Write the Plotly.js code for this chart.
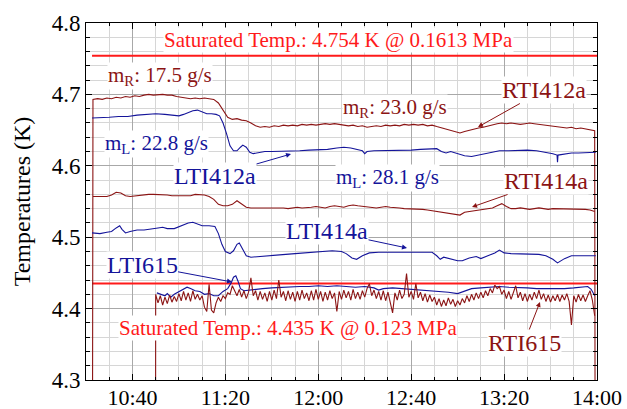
<!DOCTYPE html>
<html><head><meta charset="utf-8">
<script src="https://cdn.plot.ly/plotly-3.0.1.min.js"></script>
<style>html,body{margin:0;padding:0;background:#fff}#chart{width:627px;height:409px}</style>
</head><body><div id="chart"></div>
<script>
// time axis: minutes after 10:00
const xTickVals = [40, 80, 120, 160, 200, 240];
const xTickLabels = ["10:40", "11:20", "12:00", "12:40", "13:20", "14:00"];

// saturated temperatures (K)
const satTemps = [4.754, 4.435];
const satSpan = [22.6, 240];

// RTI412a sampled every 2 min from t=21 (first/last samples are sensor dropouts)
const rti412aStart = 21, rti412aStep = 2;
const rti412aVals = [0,
4.693,4.694,4.693,4.695,4.694,4.696,4.695,4.697,4.696,4.698,4.697,4.699,4.700,4.699,4.700,4.700,4.699,4.699,4.697,4.696,
4.695,4.694,4.695,4.694,4.695,4.694,4.693,4.688,4.678,4.668,4.665,4.666,4.664,4.663,4.660,4.656,4.654,4.655,4.654,4.656,
4.655,4.657,4.656,4.657,4.656,4.658,4.657,4.658,4.657,4.658,4.659,4.658,4.659,4.658,4.657,4.656,4.657,4.655,4.656,4.654,
4.655,4.656,4.655,4.657,4.656,4.657,4.656,4.658,4.657,4.658,4.657,4.658,4.656,4.657,4.655,4.653,4.651,4.649,4.647,4.646,
4.648,4.650,4.651,4.653,4.654,4.656,4.657,4.659,4.660,4.659,4.660,4.659,4.658,4.659,4.660,4.659,4.658,4.657,4.656,4.655,
4.654,4.653,4.653,4.654,4.652,4.653,4.652,4.651,4.649, 0];

// RTI414a sampled every 2 min from t=23
const rti414aStart = 23, rti414aStep = 2;
const rti414aVals = [
4.557,4.557,4.558,4.557,4.559,4.563,4.562,4.558,4.557,4.558,4.559,4.559,4.560,4.560,4.560,4.559,4.559,4.558,4.558,4.557,
4.557,4.558,4.560,4.560,4.559,4.557,4.553,4.546,4.544,4.544,4.546,4.551,4.546,4.542,4.541,4.541,4.542,4.541,4.542,4.541,
4.542,4.541,4.540,4.541,4.542,4.541,4.541,4.542,4.543,4.542,4.541,4.543,4.544,4.543,4.542,4.544,4.545,4.544,4.543,4.542,
4.541,4.541,4.542,4.543,4.542,4.542,4.541,4.540,4.540,4.539,4.540,4.539,4.538,4.537,4.536,4.535,4.533,4.533,4.531,4.531,
4.535,4.536,4.537,4.538,4.539,4.540,4.541,4.544,4.547,4.543,4.540,4.540,4.541,4.540,4.539,4.540,4.541,4.540,4.539,4.540,
4.540,4.539,4.540,4.539,4.539,4.540,4.539,4.538,4.536];

// LTI412a
const lti412aT = [22.6,26,30,34,38,42,46,50,54,58,60,62,64,66,68,70,72,74,76,77.5,79,80.5,82,83.5,85,86.5,87.5,89,90.5,92,
94,97,100,104,108,112,116,120,124,128,131,134,137,139,140,141,144,148,152,156,160,164,168,171,173,175,177,180,183,186,
189,192,195,198,202,206,210,214,218,221,222.8,223,223.2,226,229,232,236,239.5];
const lti412aV = [4.667,4.667,4.668,4.669,4.669,4.671,4.672,4.673,4.672,4.671,4.670,4.672,4.675,4.677,4.678,4.676,4.673,4.673,4.672,4.670,
4.660,4.645,4.628,4.621,4.621,4.626,4.629,4.626,4.619,4.617,4.618,4.620,4.620,4.620,4.621,4.621,4.622,4.622,4.623,4.625,
4.626,4.625,4.623,4.621,4.617,4.620,4.621,4.621,4.622,4.622,4.622,4.623,4.624,4.624,4.620,4.618,4.620,4.617,4.614,4.613,
4.615,4.617,4.619,4.621,4.621,4.622,4.622,4.621,4.619,4.617,4.615,4.605,4.615,4.616,4.618,4.618,4.619,4.619];

// LTI414a
const lti414aT = [22.6,26,29,31,33,34.5,35.5,37,39,42,45,48,51,53,55,58,61,64,66,68,70,73,75.5,77,78.5,80,82,83.5,85,86,
87.5,89,91,94,98,102,106,110,114,118,122,126,130,132,134.5,136.5,139,142,146,150,154,158,162,166,169,171,172.5,174,177,180,
182,185,188,190,193,196,198,200,203,207,211,215,218,221,223,224,226,229,233,236,239.5];
const lti414aV = [4.506,4.505,4.507,4.508,4.513,4.516,4.511,4.506,4.508,4.510,4.510,4.511,4.513,4.514,4.512,4.512,4.516,4.520,4.521,4.518,
4.516,4.516,4.515,4.505,4.490,4.480,4.477,4.481,4.490,4.492,4.483,4.474,4.472,4.473,4.474,4.475,4.476,4.477,4.478,4.479,
4.480,4.481,4.480,4.477,4.471,4.469,4.474,4.478,4.479,4.479,4.480,4.480,4.479,4.480,4.479,4.474,4.469,4.472,4.470,4.467,
4.467,4.471,4.473,4.470,4.474,4.478,4.482,4.478,4.477,4.477,4.477,4.476,4.474,4.469,4.464,4.466,4.470,4.474,4.474,4.475,4.474];

// LTI615
const lti615T = [50.5,52,54,55,56.5,58,60,62,63.5,65,67,69,71,73,75,77,79,81,82.5,83.5,84.5,85.5,86.5,88,90,93,96,100,104,108,
112,116,120,124,128,132,136,140,144,146,148,152,156,160,164,168,172,176,180,183,186,190,194,198,202,206,210,214,218,222,
226,230,234,236,237.5,239];
const lti615V = [4.422,4.420,4.418,4.421,4.416,4.420,4.424,4.427,4.430,4.428,4.425,4.424,4.420,4.421,4.418,4.418,4.424,4.428,4.436,4.444,
4.446,4.438,4.428,4.425,4.426,4.427,4.428,4.429,4.430,4.430,4.431,4.431,4.432,4.431,4.432,4.431,4.430,4.431,4.429,4.426,
4.428,4.429,4.428,4.428,4.427,4.426,4.424,4.423,4.421,4.424,4.428,4.429,4.430,4.431,4.430,4.430,4.429,4.428,4.428,4.427,
4.428,4.429,4.430,4.431,4.427,4.418];

// RTI615 sampled every 1 min from t=49 (first sample is a sensor dropout)
const rti615Start = 49, rti615Step = 1;
const rti615Vals = [0,
4.420,4.408,4.418,4.405,4.416,4.407,4.419,4.409,4.417,4.410,
4.421,4.411,4.424,4.412,4.422,4.410,4.425,4.413,4.420,4.412,
4.418,4.402,4.396,4.434,4.398,4.394,4.408,4.416,4.410,4.418,
4.414,4.422,4.420,4.432,4.426,4.418,4.427,4.416,4.425,4.414,
4.423,4.443,4.418,4.425,4.412,4.424,4.413,4.422,4.410,4.424,
4.412,4.426,4.414,4.440,4.416,4.424,4.411,4.425,4.413,4.423,
4.410,4.424,4.412,4.426,4.414,4.422,4.411,4.425,4.412,4.427,
4.413,4.424,4.410,4.423,4.412,4.425,4.414,4.422,4.396,4.424,
4.413,4.426,4.415,4.424,4.412,4.427,4.414,4.423,4.413,4.425,
4.416,4.428,4.435,4.418,4.426,4.414,4.424,4.412,4.425,4.411,
4.423,4.410,4.394,4.422,4.412,4.426,4.414,4.420,4.449,4.416,
4.424,4.413,4.435,4.415,4.423,4.411,4.421,4.409,4.419,4.410,
4.416,4.405,4.414,4.403,4.412,4.404,4.415,4.406,4.413,4.403,
4.411,4.405,4.414,4.408,4.418,4.410,4.420,4.412,4.422,4.414,
4.423,4.415,4.425,4.418,4.428,4.422,4.433,4.428,4.431,4.420,
4.426,4.414,4.424,4.413,4.422,4.432,4.415,4.423,4.411,4.421,
4.410,4.420,4.412,4.423,4.414,4.426,4.413,4.421,4.410,4.419,
4.409,4.418,4.411,4.420,4.410,4.419,4.412,4.421,4.410,4.377,
4.418,4.409,4.420,4.411,4.419,4.410,4.418,4.425,4.412,4.390];

const DARKRED = '#8b1414', BLUE = '#14149a', RED = '#ff1a1a';
const FONT = '"Liberation Serif", "Times New Roman", serif';

function grid(start, step, vals) { return vals.map((_, i) => start + i * step); }
function line(x, y, color, w) {
  return {type: 'scatter', mode: 'lines', x: x, y: y, line: {color: color, width: w || 1.1}, hoverinfo: 'skip'};
}

const traces = [
  line(satSpan, [satTemps[0], satTemps[0]], RED, 2),
  line(satSpan, [satTemps[1], satTemps[1]], RED, 2),
  line(grid(rti412aStart, rti412aStep, rti412aVals), rti412aVals, DARKRED),
  line(lti412aT, lti412aV, BLUE),
  line(grid(rti414aStart, rti414aStep, rti414aVals), rti414aVals, DARKRED),
  line(lti414aT, lti414aV, BLUE),
  line(lti615T, lti615V, BLUE),
  line(grid(rti615Start, rti615Step, rti615Vals), rti615Vals, DARKRED)
];

const L = 86, R = 597, T = 23, B = 380;
const px = v => (v - L) / (R - L);
const py = v => (B - v) / (B - T);

function lbl(text, x, y, color, size) {
  return {
    xref: 'paper', yref: 'paper', x: px(x), y: py(y), text: text, showarrow: false,
    font: {family: FONT, size: size, color: color}, bgcolor: 'white', borderpad: 0,
    xanchor: 'center', yanchor: 'middle'
  };
}
function arrowLbl(text, cx, cy, hx, hy, color, size) {
  return {
    xref: 'paper', yref: 'paper', x: px(hx), y: py(hy), ax: cx - hx, ay: cy - hy,
    axref: 'pixel', ayref: 'pixel', text: text, showarrow: true, arrowhead: 2, arrowsize: 1,
    arrowwidth: 1, arrowcolor: color, bgcolor: 'white', borderpad: 0,
    font: {family: FONT, size: size, color: color}
  };
}

const annotations = [
  lbl('Saturated Temp.: ' + satTemps[0] + ' K @ 0.1613 MPa', 338, 40, RED, 21),
  lbl('Saturated Temp.: ' + satTemps[1] + ' K @ 0.123 MPa', 288, 328, RED, 21),
  lbl('m<sub>R</sub>: 17.5 g/s', 160, 76, DARKRED, 21),
  lbl('m<sub>L</sub>: 22.8 g/s', 156, 144, BLUE, 21),
  lbl('m<sub>R</sub>: 23.0 g/s', 395, 108, DARKRED, 21),
  lbl('m<sub>L</sub>: 28.1 g/s', 387, 178, BLUE, 21),
  arrowLbl('LTI412a', 215, 176, 291, 154, BLUE, 24),
  arrowLbl('RTI412a', 544, 90, 478, 127, DARKRED, 24),
  arrowLbl('RTI414a', 546, 181, 472, 207, DARKRED, 24),
  arrowLbl('LTI414a', 327, 231, 407, 248, BLUE, 24),
  arrowLbl('LTI615', 142, 265, 232, 282, BLUE, 24),
  arrowLbl('RTI615', 524, 343, 540, 302, DARKRED, 24)
];

const layout = {
  width: 627, height: 409,
  margin: {l: 86, r: 30, t: 23, b: 29},
  paper_bgcolor: 'white', plot_bgcolor: 'white',
  showlegend: false,
  font: {family: FONT, color: '#000'},
  xaxis: {
    range: [20, 240], tickmode: 'array', tickvals: xTickVals, ticktext: xTickLabels,
    ticks: 'inside', ticklen: 6, tickcolor: '#000', tickwidth: 1, ticklabelstandoff: -2,
    showline: true, linecolor: '#000', linewidth: 1, mirror: 'allticks',
    showgrid: true, gridcolor: '#a8a8a8', gridwidth: 1, zeroline: false,
    tickfont: {family: FONT, size: 22, color: '#000'},
    minor: {tick0: 20, dtick: 10, ticks: 'inside', ticklen: 3, tickcolor: '#000', showgrid: true, gridcolor: '#d6d6d6', gridwidth: 1}
  },
  yaxis: {
    range: [4.3, 4.8], tick0: 4.3, dtick: 0.1, tickformat: '.1f',
    ticks: 'inside', ticklen: 6, tickcolor: '#000', tickwidth: 1,
    showline: true, linecolor: '#000', linewidth: 1, mirror: 'allticks',
    showgrid: true, gridcolor: '#a8a8a8', gridwidth: 1, zeroline: false,
    tickfont: {family: FONT, size: 23, color: '#000'},
    title: {text: 'Temperatures (K)', font: {family: FONT, size: 24, color: '#000'}, standoff: 14},
    minor: {tick0: 4.3, dtick: 0.02, ticks: 'inside', ticklen: 4, tickcolor: '#000', showgrid: true, gridcolor: '#d6d6d6', gridwidth: 1}
  },
  annotations: annotations
};

Plotly.newPlot('chart', traces, layout, {displayModeBar: false, staticPlot: true});
</script></body></html>
